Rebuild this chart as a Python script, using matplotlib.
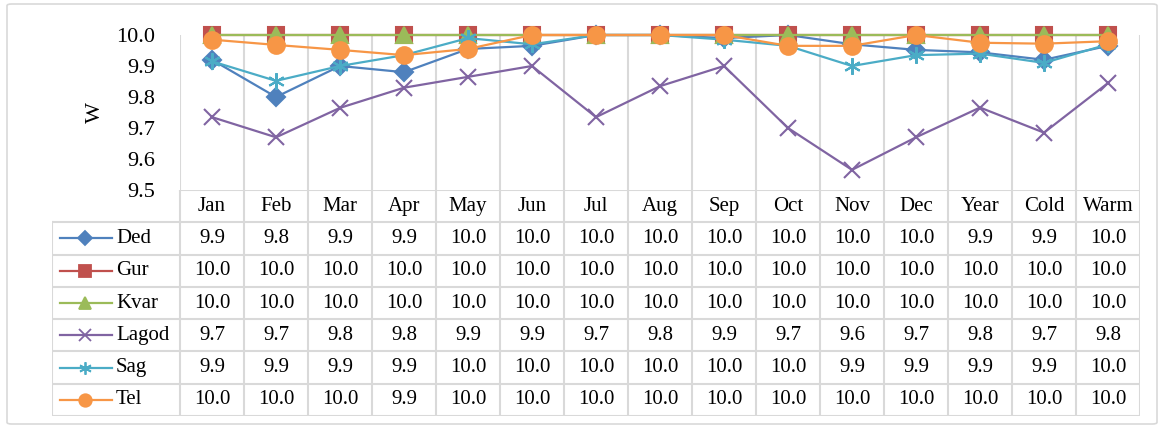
import matplotlib.pyplot as plt
import numpy as np
from matplotlib.patches import FancyBboxPatch
from matplotlib.lines import Line2D

plt.rcParams['font.family'] = 'serif'
plt.rcParams['font.serif'] = ['Liberation Serif', 'Times New Roman', 'DejaVu Serif']

categories = ['Jan', 'Feb', 'Mar', 'Apr', 'May', 'Jun', 'Jul', 'Aug', 'Sep',
              'Oct', 'Nov', 'Dec', 'Year', 'Cold', 'Warm']
ded = [9.92, 9.80, 9.90, 9.88, 9.955, 9.965, 10.0, 10.0, 9.99, 10.0, 9.97, 9.952, 9.944, 9.92, 9.965]
gur = [10.0] * 15
kvar = [10.0] * 15
lagod = [9.735, 9.67, 9.765, 9.83, 9.865, 9.90, 9.735, 9.835, 9.90, 9.70, 9.565, 9.67, 9.766, 9.685, 9.845]
sag = [9.915, 9.852, 9.90, 9.935, 9.99, 9.97, 10.0, 10.0, 9.985, 9.965, 9.90, 9.935, 9.94, 9.91, 9.97]
tel = [9.985, 9.968, 9.952, 9.935, 9.955, 10.0, 10.0, 10.0, 10.0, 9.965, 9.965, 10.0, 9.975, 9.972, 9.98]

series = [
    ('Ded', ded, '#4F81BD', 'D', 9),
    ('Gur', gur, '#C0504D', 's', 11),
    ('Kvar', kvar, '#9BBB59', '^', 11),
    ('Lagod', lagod, '#8064A2', 'x', 11),
    ('Sag', sag, '#4BACC6', (6, 2, 0), 12),
    ('Tel', tel, '#F79646', 'o', 12),
]

W, H = 1161, 430
fig = plt.figure(figsize=(W / 100, H / 100), dpi=100)

# outer frame
fig.patches.append(FancyBboxPatch((7 / W, 6 / H), 1150 / W, 420 / H,
                                  boxstyle='round,pad=0,rounding_size=0.004',
                                  transform=fig.transFigure, fill=False,
                                  edgecolor='#d9d9d9', linewidth=1.2))

grid_c = '#d9d9d9'
x0, x1 = 180, 1140
ytop, ybot = 35, 190
ax = fig.add_axes([x0 / W, 1 - ybot / H, (x1 - x0) / W, (ybot - ytop) / H])
n = len(categories)
xs = np.arange(n) + 0.5
ax.set_xlim(0, n)
ax.set_ylim(9.5, 10.0)
for k in range(n + 1):
    ax.axvline(k, color=grid_c, lw=1.5, zorder=0)
for s in ax.spines.values():
    s.set_visible(False)
ax.set_xticks([])
ax.set_yticks(np.arange(9.5, 10.01, 0.1))
ax.set_yticklabels([f'{v:.1f}' for v in np.arange(9.5, 10.01, 0.1)], fontsize=16)
ax.tick_params(axis='y', length=0, pad=18)
ax.set_ylabel('W', fontsize=16, labelpad=8)

for name, vals, col, mk, ms in series:
    ax.plot(xs, vals, color=col, lw=1.6, marker=mk, markersize=ms,
            markeredgecolor=col, markerfacecolor=col,
            markeredgewidth=1.5, clip_on=False)

# data table
tb_top, tb_bot = 190, 416
rows = len(series) + 1
tax = fig.add_axes([52 / W, 1 - tb_bot / H, (x1 - 52) / W, (tb_bot - tb_top) / H])
tax.set_xlim(-2, n)
tax.set_ylim(rows, 0)
tax.axis('off')

# horizontal lines
tax.plot([0, n], [0, 0], color=grid_c, lw=1.5)
for r in range(1, rows + 1):
    tax.plot([-2, n], [r, r], color=grid_c, lw=1.5)
# vertical lines
for k in range(n + 1):
    tax.plot([k, k], [0, rows], color=grid_c, lw=1.5)
tax.plot([-2, -2], [1, rows], color=grid_c, lw=1.5)

for i, c in enumerate(categories):
    tax.text(i + 0.5, 0.52, c, ha='center', va='center', fontsize=15)

for r, (name, vals, col, mk, ms) in enumerate(series, start=1):
    yc = r + 0.5
    tax.add_line(Line2D([-1.88, -1.07], [yc, yc], color=col, lw=1.6))
    tax.plot([-1.48], [yc], marker=mk, markersize=ms * 0.75, color=col,
             markeredgecolor=col, markeredgewidth=1.3)
    tax.text(-1.0, yc, name, ha='left', va='center', fontsize=15)
    for i, v in enumerate(vals):
        tax.text(i + 0.5, yc, f'{v:.1f}', ha='center', va='center', fontsize=15)

fig.savefig('out.png', dpi=100)
